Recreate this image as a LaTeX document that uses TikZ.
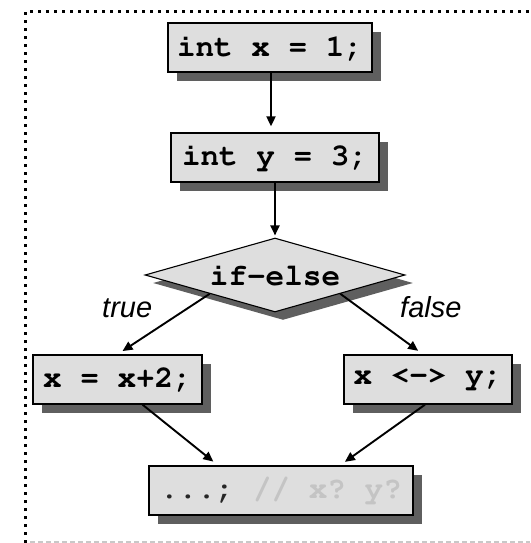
\documentclass[tikz,border=0pt]{standalone}
\usepackage[T1]{fontenc}
\usepackage{fontspec}
\setmainfont{Liberation Sans}
\usetikzlibrary{shapes.geometric,shadows,arrows.meta,calc}

\definecolor{boxgray}{HTML}{DEDEDE}
\definecolor{shadowgray}{HTML}{5F5F5F}
\definecolor{fadedcode}{HTML}{C4C4C4}
\definecolor{framegray}{HTML}{C8C8C8}

% Courier (URW Nimbus Mono) through NFSS for the code
\newcommand{\codefont}{\fontencoding{T1}\fontfamily{pcr}\fontseries{b}\selectfont\frenchspacing}

\begin{document}
\begin{tikzpicture}[x=1pt,y=-1pt,
  codefont/.style={font=\fontsize{31}{36}\codefont},
  codebox/.style={codefont, rectangle, draw=black, line width=1.3pt,
    fill=boxgray, inner sep=0pt, minimum height=49pt,
    drop shadow={shadow xshift=9pt, shadow yshift=-9pt,
      fill=shadowgray, opacity=1}},
  decision/.style={codefont, diamond, aspect=3.5, draw=black, line width=1.1pt,
    fill=boxgray, inner sep=0pt, minimum width=260pt, minimum height=74pt,
    drop shadow={shadow xshift=8pt, shadow yshift=-8pt,
      fill=shadowgray, opacity=1}},
  flow/.style={draw=black, line width=1.9pt,
    -{Triangle[length=10pt,width=9pt]}},
  branch/.style={font=\itshape\fontsize{29}{34}\selectfont, inner sep=0pt,
    anchor=base west}
]
  % page area
  \useasboundingbox (0,0) rectangle (530,543);

  % frame: dotted black on the left and top, dashed grey at the bottom
  \draw[line width=3pt, dash pattern=on 3pt off 5pt]
    (25,543) -- (25,12) -- (530,12);
  \draw[framegray, line width=2pt, dash pattern=on 5pt off 3pt]
    (30,542) -- (530,542);

  % statements
  \node[codebox, minimum width=204pt] (b1) at (270,47.5) {int x = 1;};
  \node[codebox, minimum width=208pt] (b2) at (275,157.5) {int y = 3;};
  \node[decision] (d) at (275,275) {if-else};
  \node[codebox, minimum width=169pt] (b3) at (117.5,379.5) {x = x+2;};
  \node[codebox, minimum width=168pt] (b4) at (428,379.5) {x <-> y;};
  \node[codebox, minimum width=264pt] (b5) at (281,490.5)
    {\textcolor{black!85}{...;} \textcolor{fadedcode}{// x? y?}};

  % branch labels
  \node[branch] (lt) at (102,317) {true};
  \node[branch] (lf) at (400,317) {false};

  % control flow
  \draw[flow, shorten >=6pt] ([xshift=1pt]b1.south) -- ([xshift=1pt]b1.south |- b2.north);
  \draw[flow, shorten >=2pt] (b2.south -| d.north) -- (d.north);
  \draw[flow, shorten >=6pt] ($(d.west)!0.5!(d.south)$) -- (b3.north);
  \draw[flow, shorten >=6pt] ($(d.east)!0.5!(d.south)$) -- ([xshift=-5pt]b4.north);
  \draw[flow, shorten >=6pt] ([xshift=25pt]b3.south) -- ([xshift=-63pt]b5.north);
  \draw[flow, shorten >=6pt] ([xshift=-3pt]b4.south) -- ([xshift=59pt]b5.north);
\end{tikzpicture}
\end{document}
